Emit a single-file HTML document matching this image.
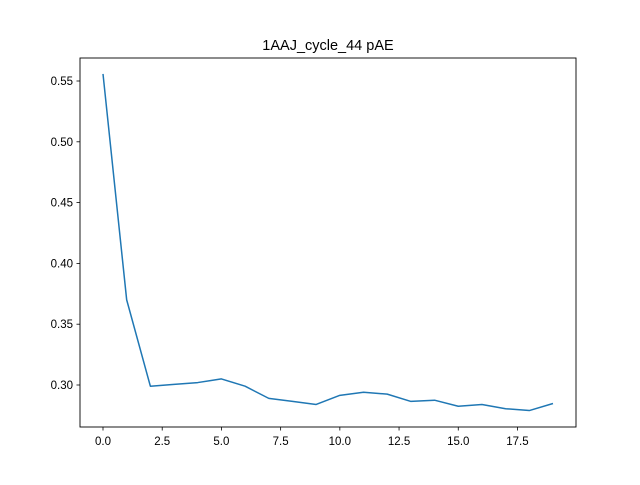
<!DOCTYPE html>
<html><head><meta charset="utf-8">
<style>
body{margin:0;background:#fff;}
svg text{font-family:"Liberation Sans","DejaVu Sans",sans-serif;}
</style></head>
<body>
<svg id="chart" width="640" height="480" xmlns="http://www.w3.org/2000/svg">
<rect width="640" height="480" fill="#fff"/>
<text x="328" y="50" text-anchor="middle" font-size="14.5">1AAJ_cycle_44 pAE</text>
<g id="ticks"></g>
<path id="line" fill="none" stroke="#1f77b4" stroke-width="1.5" stroke-linejoin="round"/>
<rect x="80" y="58" width="496" height="369" fill="none" stroke="#000" stroke-width="0.9"/>
</svg>
<script>
const xValues=[0,1,2,3,4,5,6,7,8,9,10,11,12,13,14,15,16,17,18,19];
const yValues=[0.5558,0.370,0.299,0.3005,0.302,0.305,0.299,0.289,0.2865,0.284,0.2915,0.294,0.2925,0.2865,0.2875,0.2825,0.284,0.2805,0.279,0.2848];
const xTicks=[0,2.5,5,7.5,10,12.5,15,17.5];
const xTickLabels=["0.0","2.5","5.0","7.5","10.0","12.5","15.0","17.5"];
const yTicks=[0.30,0.35,0.40,0.45,0.50,0.55];
const yTickLabels=["0.30","0.35","0.40","0.45","0.50","0.55"];
const xs=v=>103+(v-0)*(553-103)/19;
const ys=v=>385-(v-0.30)*(385-81)/0.25;
const ns="http://www.w3.org/2000/svg";
const g=document.getElementById('ticks');
function mk(t,a){const e=document.createElementNS(ns,t);for(const k in a)e.setAttribute(k,a[k]);g.appendChild(e);return e;}
xTicks.forEach((v,i)=>{
  const l=mk('line',{x1:xs(v),x2:xs(v),y1:427,y2:430.5,stroke:'#000','stroke-width':0.8});
  
  
  const t=mk('text',{x:xs(v),y:445,'text-anchor':'middle','font-size':'11.5'});
  t.textContent=xTickLabels[i];
  
  
});
yTicks.forEach((v,i)=>{
  const l=mk('line',{x1:76.5,x2:80,y1:ys(v),y2:ys(v),stroke:'#000','stroke-width':0.8});
  
  
  const t=mk('text',{x:73,y:ys(v)+4,'text-anchor':'end','font-size':'11.5'});
  t.textContent=yTickLabels[i];
  
  
});
document.getElementById('line').setAttribute('d',xValues.map((x,i)=>(i?'L':'M')+xs(x).toFixed(2)+' '+ys(yValues[i]).toFixed(2)).join(' '));
</script>
</body></html>
